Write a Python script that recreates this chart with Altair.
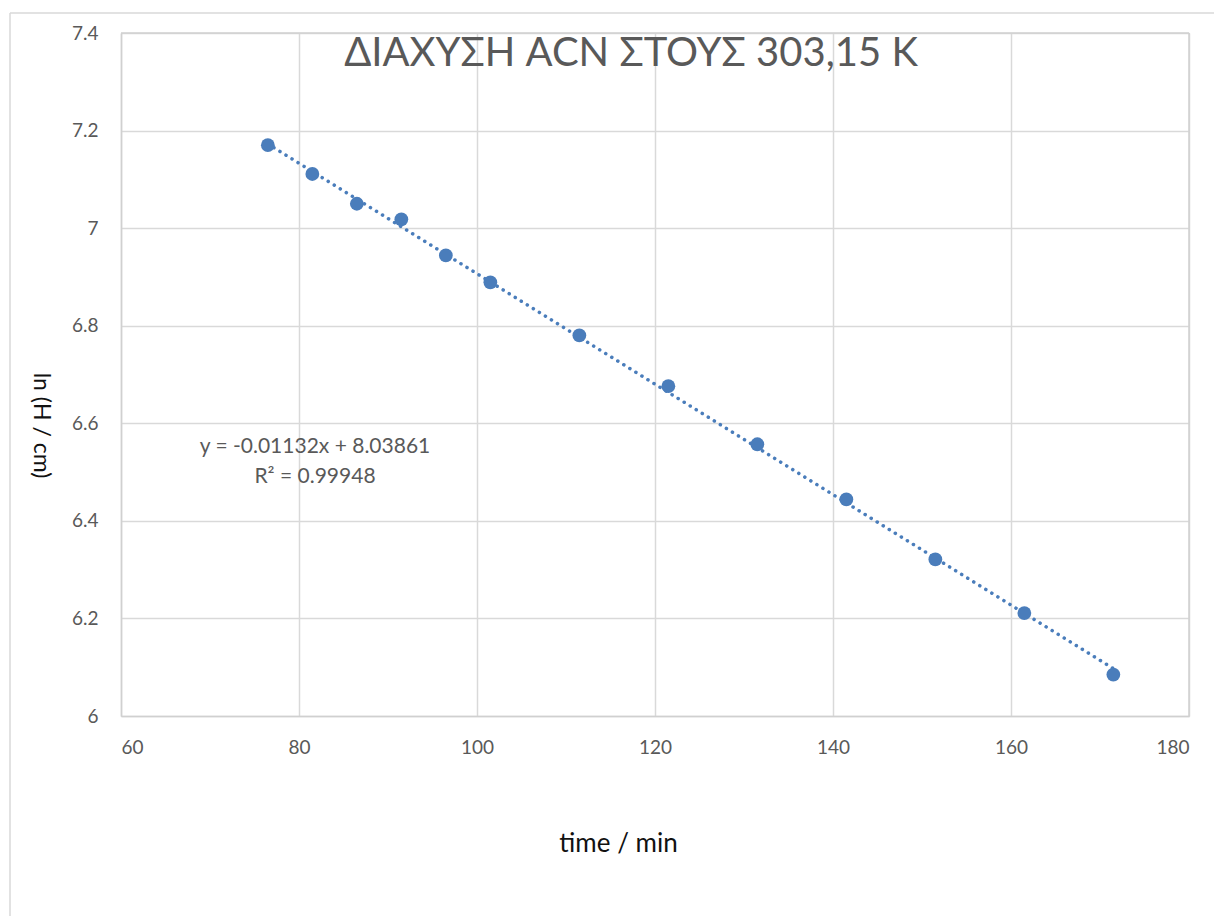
import altair as alt
import pandas as pd

# Measured diffusion data: elapsed time (min) and ln of liquid height (cm)
time_min = [76.5, 81.5, 86.5, 91.5, 96.5, 101.5, 111.5, 121.5, 131.5, 141.5, 151.5, 161.5, 171.5]
ln_h = [7.170, 7.111, 7.050, 7.018, 6.944, 6.889, 6.780, 6.676, 6.557, 6.444, 6.321, 6.211, 6.085]

# Linear trend line coefficients as reported on the chart
slope = -0.01132
intercept = 8.03861
r_squared = 0.99948

x_ticks = [60, 80, 100, 120, 140, 160, 180]
y_ticks = [6.0, 6.2, 6.4, 6.6, 6.8, 7.0, 7.2, 7.4]

W, H = 1068, 683
FONT = "Lato"
GREY = "#595959"
BLUE = "#4a7dbb"

points = pd.DataFrame({"t": time_min, "lnh": ln_h})
t_ends = [min(time_min), max(time_min)]
trend = pd.DataFrame({"t": t_ends, "lnh": [slope * t + intercept for t in t_ends]})

x_scale = alt.Scale(domain=[60, 180], nice=False, zero=False)
y_scale = alt.Scale(domain=[6.0, 7.4], nice=False, zero=False)

x_axis = alt.Axis(
    values=x_ticks, title="time / min", format="d",
    grid=True, gridColor="#d9d9d9", gridWidth=1.5,
    domainColor="#d0d0d0", domainWidth=1.5, ticks=False,
    labelFont=FONT, labelFontSize=19, labelColor=GREY, labelPadding=22,
    titleFont=FONT, titleFontSize=26, titleFontWeight="normal", titleColor="#111111",
    titleX=497, titleY=127, titleBaseline="middle", titleAlign="center",
)
y_axis = alt.Axis(
    values=y_ticks, title="ln (H / cm)",
    labelExpr="datum.value == 6 ? '6' : datum.value == 7 ? '7' : format(datum.value, '.1f')",
    grid=True, gridColor="#d9d9d9", gridWidth=1.5,
    domainColor="#d0d0d0", domainWidth=1.5, ticks=False,
    labelFont=FONT, labelFontSize=19, labelColor=GREY, labelPadding=23,
    titleFont=FONT, titleFontSize=23, titleFontWeight="normal", titleColor="#111111",
    titleAngle=90, titleX=-81, titleY=392, titleBaseline="middle", titleAlign="center",
)

X = alt.X("t:Q", scale=x_scale, axis=x_axis)
Y = alt.Y("lnh:Q", scale=y_scale, axis=y_axis)

dots = alt.Chart(points).mark_circle(size=190, color=BLUE, opacity=1).encode(x=X, y=Y)

trend_line = alt.Chart(trend).mark_line(
    color=BLUE, strokeWidth=3.5, strokeDash=[0.1, 7], strokeCap="round"
).encode(x=X, y=Y)

# right and top frame of the plot area
frame = alt.Chart(pd.DataFrame({"a": [0]})).mark_rule(color="#d0d0d0", strokeWidth=1.5)
right_edge = frame.encode(x=alt.value(W), y=alt.value(0), y2=alt.value(H))
top_edge = frame.encode(x=alt.value(0), x2=alt.value(W), y=alt.value(0))

# light outer border of the whole chart (left and top sides)
outer = alt.Chart(pd.DataFrame({"a": [0]})).mark_rule(color="#d9d9d9", strokeWidth=1.5)
outer_left = outer.encode(x=alt.value(-111), y=alt.value(-20), y2=alt.value(900))
outer_top = outer.encode(x=alt.value(-111), x2=alt.value(1100), y=alt.value(-20))

eq_style = dict(font=FONT, fontSize=21, color=GREY, align="center", baseline="middle")
eq_line1 = alt.Chart(pd.DataFrame({"txt": [f"y = {slope}x + {intercept}"]})).mark_text(
    **eq_style
).encode(text="txt:N", x=alt.value(194), y=alt.value(414))
eq_line2 = alt.Chart(pd.DataFrame({"txt": [f"R² = {r_squared}"]})).mark_text(
    **eq_style
).encode(text="txt:N", x=alt.value(194), y=alt.value(444))

title = alt.Chart(pd.DataFrame({"txt": ["ΔΙΑΧΥΣΗ ACN ΣΤΟΥΣ 303,15 K"]})).mark_text(
    font=FONT, fontSize=40, color=GREY, align="center", baseline="middle"
).encode(text="txt:N", x=alt.value(510), y=alt.value(21))

chart = alt.layer(
    outer_left, outer_top, right_edge, top_edge, trend_line, dots, eq_line1, eq_line2, title
).properties(
    width=W, height=H,
    autosize=alt.AutoSizeParams(type="none"),
    padding={"left": 121, "top": 33, "right": 25, "bottom": 200},
).configure_view(stroke=None).configure(background="white")

chart.save("out.html", embed_options={"renderer": "svg", "actions": False})
